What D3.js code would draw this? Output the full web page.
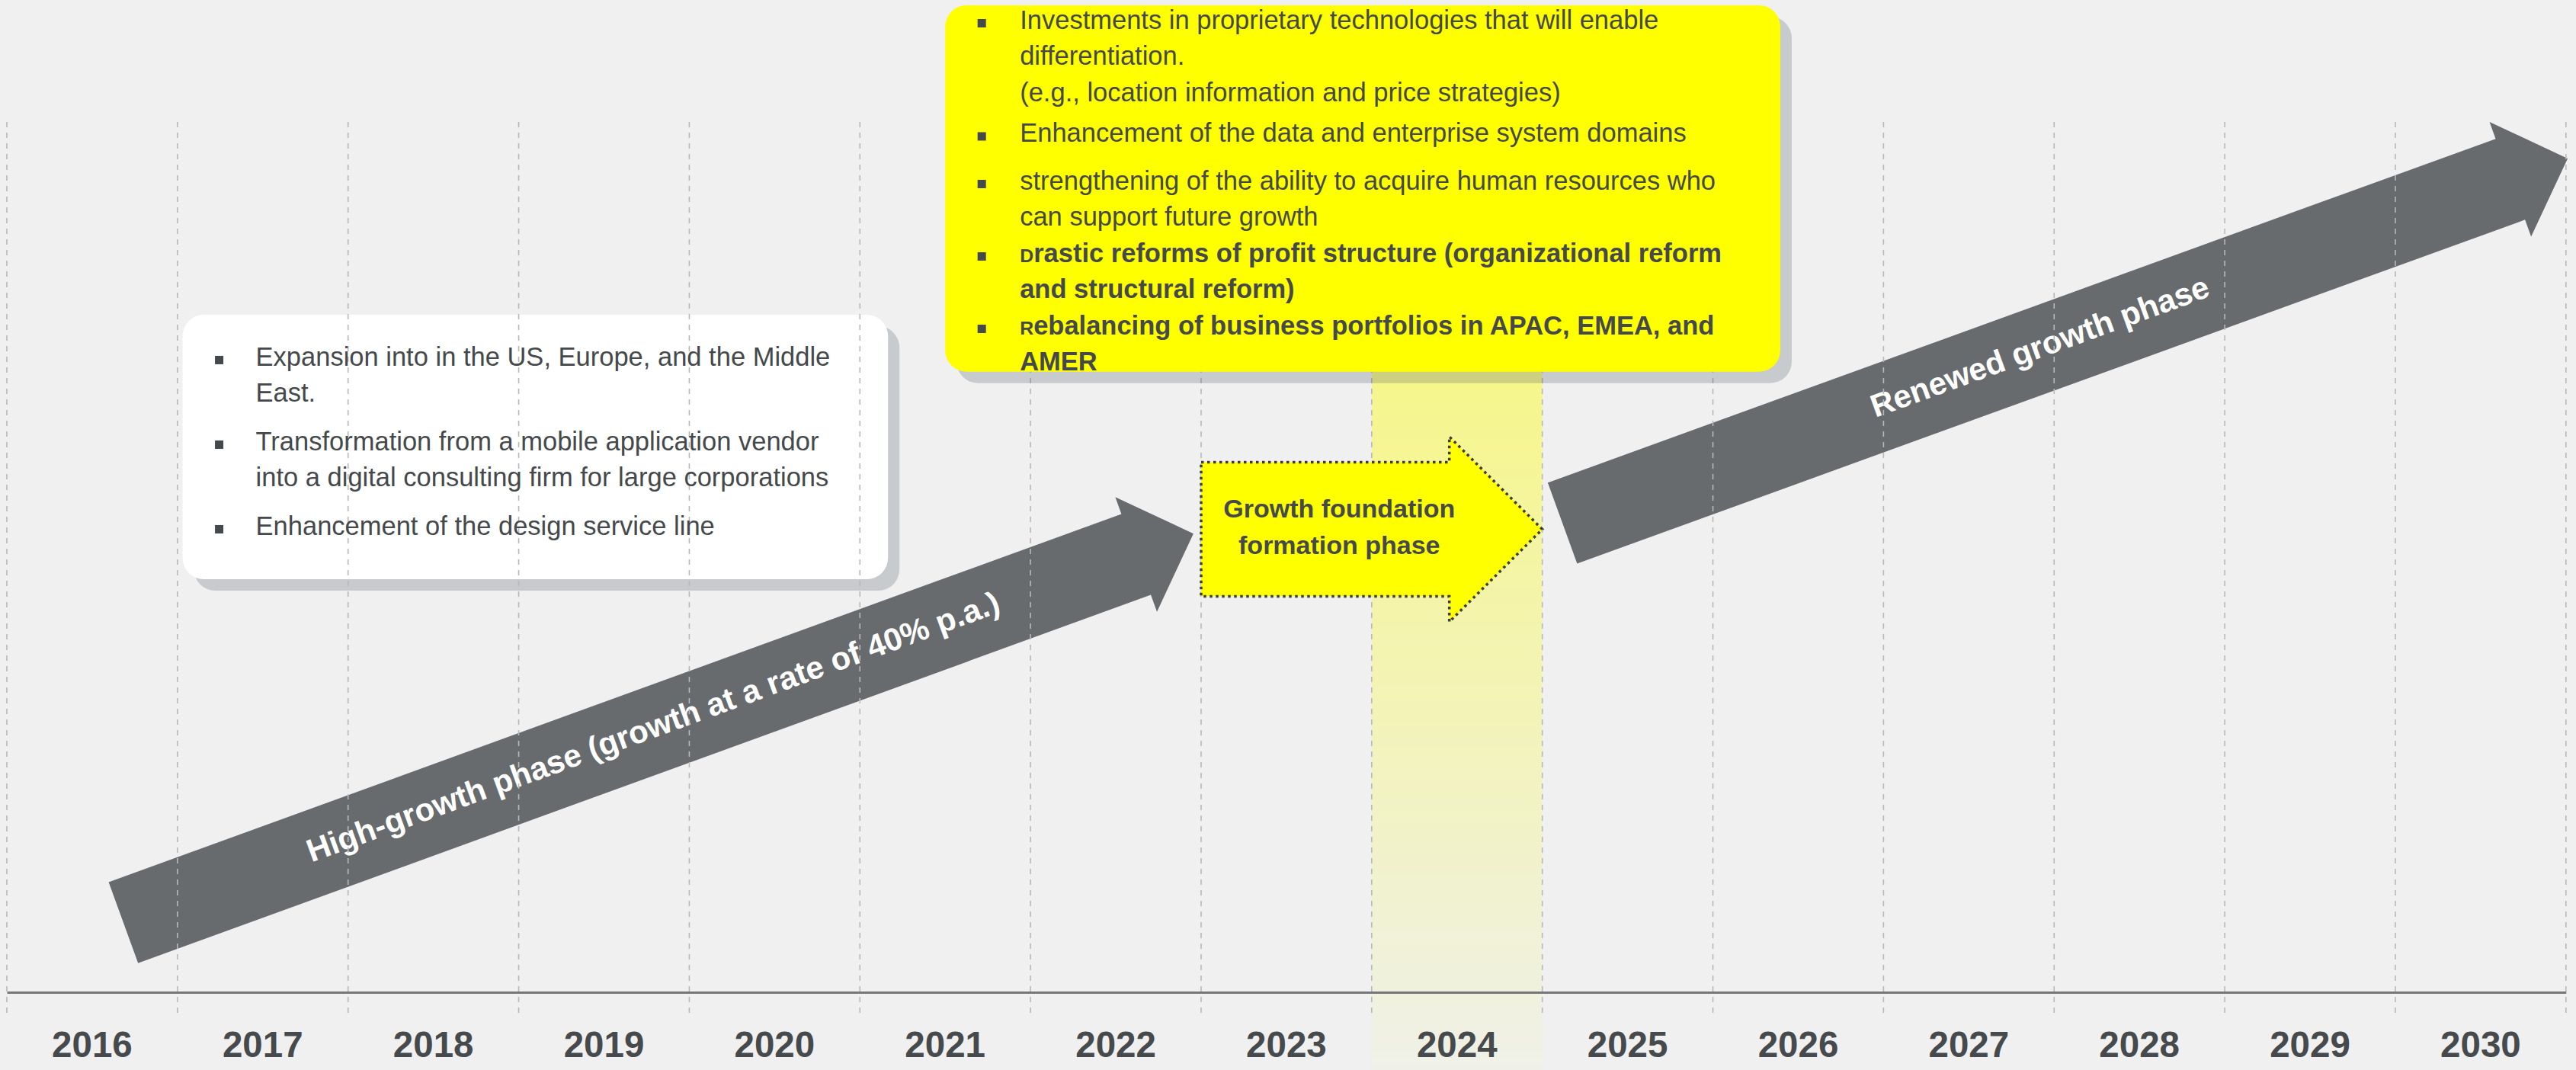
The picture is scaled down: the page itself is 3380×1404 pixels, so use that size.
<!DOCTYPE html>
<html>
<head>
<meta charset="utf-8">
<script src="https://cdn.jsdelivr.net/npm/d3@7"></script>
<style>
  html, body { margin: 0; padding: 0; background: #eff0ef; }
  svg { display: block; }
</style>
</head>
<body>
<script>
// ---- data -------------------------------------------------------------
const years = [2016, 2017, 2018, 2019, 2020, 2021, 2022, 2023, 2024, 2025, 2026, 2027, 2028, 2029, 2030];
const focusYear = 2024;

// growth phases: time span (years) and growth level (0-100) at each end
const phaseNames = [
  "High-growth phase (growth at a rate of 40% p.a.)",
  "Growth foundation formation phase",
  "Renewed growth phase"
];
const phaseLabelLines = [
  ["High-growth phase (growth at a rate of 40% p.a.)"],
  ["Growth foundation", "formation phase"],
  ["Renewed growth phase"]
];
const phaseStartYear = [2016.683, 2023.0, 2025.118];
const phaseEndYear = [2022.955, 2025.0, 2031.01];
const phaseStartLevel = [8.0, 53.2, 53.9];
const phaseEndLevel = [52.7, 53.2, 95.8];

// initiatives during the high-growth phase
const earlyNotes = [
  ["Expansion into in the US, Europe, and the Middle", "East."],
  ["Transformation from a mobile application vendor", "into a digital consulting firm for large corporations"],
  ["Enhancement of the design service line"]
];

// initiatives during the foundation phase
const foundationNotes = [
  ["Investments in proprietary technologies that will enable", "differentiation.", "(e.g., location information and price strategies)"],
  ["Enhancement of the data and enterprise system domains"],
  ["strengthening of the ability to acquire human resources who", "can support future growth"],
  ["Drastic reforms of profit structure (organizational reform", "and structural reform)"],
  ["Rebalancing of business portfolios in APAC, EMEA, and", "AMER"]
];
const foundationNotesBold = [false, false, false, true, true];

// ---- layout -----------------------------------------------------------
const W = 3380, H = 1404;
const FONT = "'Liberation Sans', Arial, Helvetica, sans-serif";
const TEXT = "#45494c";
const GREY_ARROW = "#676b6e";
const SHADOW = "rgba(60,75,90,0.22)";

const svg = d3.select("body").append("svg")
  .attr("width", W).attr("height", H)
  .attr("viewBox", `0 0 ${W} ${H}`);

svg.append("rect").attr("width", W).attr("height", H).attr("fill", "#eff0ef");

const x = d3.scaleLinear().domain([years[0], years[years.length - 1] + 1]).range([9, 3366.8]);
const band = d3.scaleBand().domain(years).range(x.range()).padding(0);
const y = d3.scaleLinear().domain([0, 100]).range([1302, 160]);

const defs = svg.append("defs");
const grad = defs.append("linearGradient")
  .attr("id", "focusFade")
  .attr("gradientUnits", "userSpaceOnUse")
  .attr("x1", 0).attr("x2", 0).attr("y1", 490).attr("y2", H);
grad.append("stop").attr("offset", 0).attr("stop-color", "#ffff00").attr("stop-opacity", 0.42);
grad.append("stop").attr("offset", 1).attr("stop-color", "#ffff00").attr("stop-opacity", 0.03);

// ---- note box helpers ----------------------------------------------------
function noteBox(g, box) {
  const x0 = x(box.x0), x1 = x(box.x1), y0 = y(box.top), y1 = y(box.bottom);
  g.append("rect")
    .attr("x", x0 + 15).attr("y", y0 + 15)
    .attr("width", x1 - x0).attr("height", y1 - y0)
    .attr("rx", 28).attr("fill", SHADOW);
  return { x0, x1, y0, y1 };
}
function noteRect(g, r, fill) {
  g.append("rect")
    .attr("x", r.x0).attr("y", r.y0)
    .attr("width", r.x1 - r.x0).attr("height", r.y1 - r.y0)
    .attr("rx", 28).attr("fill", fill);
}
function noteText(g, r, notes, bold, opts) {
  let base = r.y0 + opts.first;
  notes.forEach((lines, i) => {
    base += opts.extra[i];
    g.append("rect")
      .attr("x", r.x0 + opts.bullet - 5.5).attr("y", base - 13)
      .attr("width", 11).attr("height", 11)
      .attr("fill", TEXT);
    lines.forEach((line, j) => {
      const t = g.append("text")
        .attr("x", r.x0 + opts.text).attr("y", base)
        .attr("font-family", FONT).attr("font-size", 34.5)
        .attr("font-weight", bold[i] ? "bold" : "normal")
        .attr("fill", TEXT);
      if (bold[i] && j === 0) {
        t.append("tspan").attr("font-size", "0.72em").text(line[0]);
        t.append("tspan").text(line.slice(1));
      } else {
        t.text(line);
      }
      if (j < lines.length - 1) base += opts.lh;
    });
    base += opts.lh;
  });
}

// ---- early-phase note box (under the grid) -------------------------------
const gEarly = svg.append("g");
const earlyBox = noteBox(gEarly, { x0: 2017.03, x1: 2021.165, top: 77.85, bottom: 47.45 });
noteRect(gEarly, earlyBox, "#ffffff");

// ---- focus year column --------------------------------------------------
svg.append("rect")
  .attr("x", band(focusYear)).attr("y", y(100))
  .attr("width", band.bandwidth()).attr("height", H - y(100))
  .attr("fill", "url(#focusFade)");

// ---- foundation note box shadow ------------------------------------------
const gFound = svg.append("g");
const foundBox = noteBox(gFound, { x0: 2021.5, x1: 2026.395, top: 113.4, bottom: 71.3 });

// ---- grey phase arrows ----------------------------------------------------
const BODY = 113, HEAD = 160, HEAD_LEN = 80;
const labelAt = [0.496, null, 0.476];
[0, 2].forEach(i => {
  const x0 = x(phaseStartYear[i]), y0 = y(phaseStartLevel[i]);
  const x1 = x(phaseEndYear[i]), y1 = y(phaseEndLevel[i]);
  const L = Math.hypot(x1 - x0, y1 - y0);
  const ang = Math.atan2(y1 - y0, x1 - x0) * 180 / Math.PI;
  const pts = [
    [0, -BODY / 2], [L - HEAD_LEN, -BODY / 2], [L - HEAD_LEN, -HEAD / 2], [L, 0],
    [L - HEAD_LEN, HEAD / 2], [L - HEAD_LEN, BODY / 2], [0, BODY / 2]
  ];
  const g = svg.append("g").attr("transform", `translate(${x0},${y0}) rotate(${ang})`);
  g.append("path").attr("d", d3.line()(pts) + "Z").attr("fill", GREY_ARROW);
  g.append("text")
    .attr("x", L * labelAt[i]).attr("y", 10)
    .attr("text-anchor", "middle")
    .attr("font-family", FONT).attr("font-size", 42).attr("font-weight", "bold")
    .attr("fill", "#ffffff")
    .text(phaseLabelLines[i][0]);
});

// ---- grid ------------------------------------------------------------------
svg.append("g").selectAll("line")
  .data(d3.range(years[0], years[years.length - 1] + 2))
  .join("line")
  .attr("x1", d => x(d)).attr("x2", d => x(d))
  .attr("y1", y(100)).attr("y2", y(0) + 28)
  .attr("stroke", "#b6b9bb").attr("stroke-width", 1.6)
  .attr("stroke-dasharray", "7 7");

// ---- axis ------------------------------------------------------------------
const axis = svg.append("g")
  .attr("transform", `translate(0,${y(0)})`)
  .call(d3.axisBottom(band).tickSize(0).tickSizeOuter(0));
axis.select(".domain").attr("stroke", "#74787b").attr("stroke-width", 3);
axis.selectAll(".tick text")
  .attr("y", 85).attr("dy", 0)
  .attr("font-family", FONT).attr("font-size", 47.5).attr("font-weight", "bold")
  .attr("fill", "#464a4d");

// ---- foundation note box -------------------------------------------------------
noteRect(gFound, foundBox, "#ffff00");
gFound.raise();
noteText(gFound, foundBox, foundationNotes, foundationNotesBold, {
  first: 31, lh: 47.5, bullet: 48, text: 98, extra: [0, 6, 15, 0, 0]
});

// early box text above the grid
const gEarlyText = svg.append("g");
noteText(gEarlyText, earlyBox, earlyNotes, [false, false, false], {
  first: 67, lh: 47, bullet: 48, text: 96, extra: [0, 17, 17]
});

// ---- yellow foundation arrow ---------------------------------------------------
(function () {
  const i = 1;
  const x0 = x(phaseStartYear[i]), x1 = x(phaseEndYear[i]);
  const cy = y(phaseStartLevel[i]);
  const L = x1 - x0, hb = 88, hh = 121.5, hl = 122;
  const pts = [
    [0, -hb], [L - hl, -hb], [L - hl, -hh], [L, 0],
    [L - hl, hh], [L - hl, hb], [0, hb]
  ];
  const g = svg.append("g").attr("transform", `translate(${x0},${cy})`);
  g.append("path").attr("d", d3.line()(pts) + "Z")
    .attr("fill", "#ffff00")
    .attr("stroke", "#3a3e41").attr("stroke-width", 3.5)
    .attr("stroke-dasharray", "3.5 4.5");
  g.append("text")
    .attr("text-anchor", "middle")
    .attr("font-family", FONT).attr("font-size", 34).attr("font-weight", "bold")
    .attr("fill", TEXT)
    .selectAll("tspan").data(phaseLabelLines[i]).join("tspan")
    .attr("x", L * 0.405)
    .attr("y", (d, k) => -15 + k * 48)
    .text(d => d);
})();
</script>
</body>
</html>
